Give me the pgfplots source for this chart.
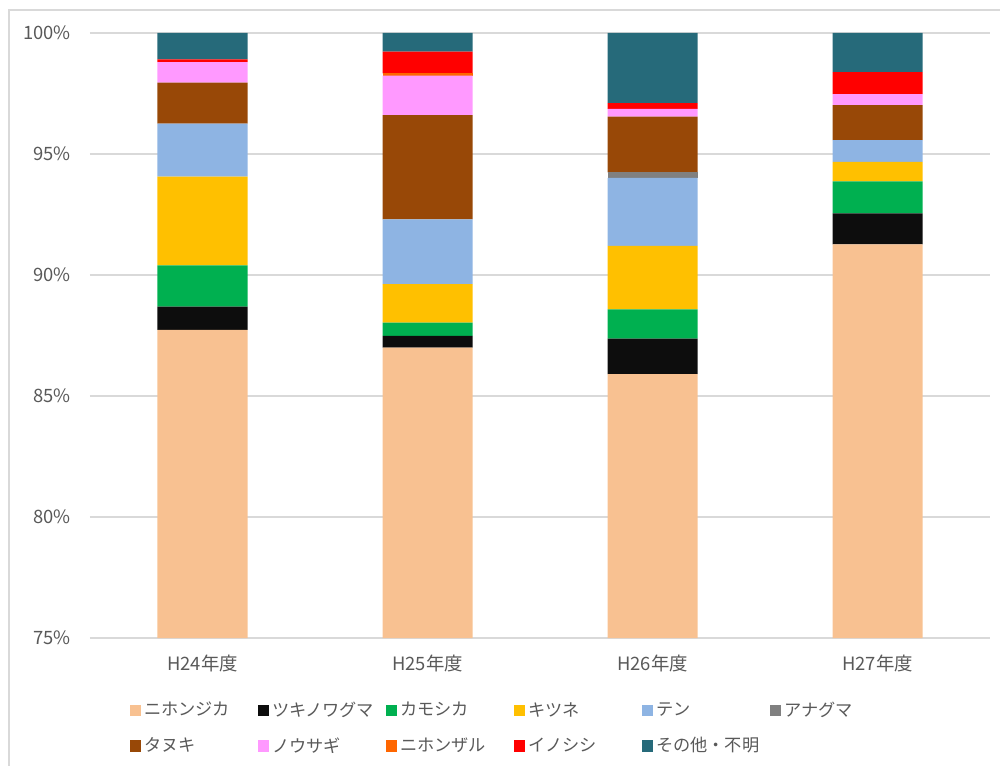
\documentclass[border=0pt]{standalone}
\usepackage{pgfplots}
\pgfplotsset{compat=1.18}
\usepackage{pgfplotstable}
\usepackage{fontspec}
\setmainfont{Noto Sans CJK JP}

\definecolor{txtgray}{HTML}{595959}
\definecolor{gridgray}{HTML}{D9D9D9}
\definecolor{cShika}{HTML}{F8C191}
\definecolor{cKuma}{HTML}{0D0D0D}
\definecolor{cKamo}{HTML}{00B050}
\definecolor{cKitsune}{HTML}{FFC000}
\definecolor{cTen}{HTML}{8EB4E3}
\definecolor{cAna}{HTML}{808080}
\definecolor{cTanuki}{HTML}{984807}
\definecolor{cUsagi}{HTML}{FF99FF}
\definecolor{cSaru}{HTML}{FF6600}
\definecolor{cInoshishi}{HTML}{FF0000}
\definecolor{cOther}{HTML}{266A7A}

\pgfplotstableread{
x shika kuma kamo kitsune ten ana tanuki usagi saru inoshishi other
0 87.73 0.96 1.71 3.66 2.19 0.00 1.70 0.85 0.00 0.11 1.09
1 87.00 0.48 0.55 1.59 2.68 0.00 4.31 1.63 0.09 0.90 0.77
2 85.90 1.47 1.21 2.62 2.81 0.23 2.30 0.32 0.00 0.24 2.90
3 91.27 1.28 1.32 0.80 0.90 0.00 1.45 0.45 0.00 0.91 1.62
}\data

\begin{document}
\begin{tikzpicture}
\useasboundingbox (-45pt,-63.5pt) rectangle (455pt,319pt);
\draw[gridgray, line width=1pt] (-40.5pt,-70pt) -- (-40.5pt,314pt) -- (460pt,314pt);
\begin{axis}[
  at={(0pt,0pt)}, anchor=south west,
  scale only axis, width=450pt, height=302.5pt,
  xmin=-0.5, xmax=3.5, ymin=75, ymax=100,
  ybar stacked, bar width=45pt,
  xtick={0,1,2,3},
  xticklabels={H24年度,H25年度,H26年度,H27年度},
  ytick={75,80,85,90,95,100},
  yticklabel={\pgfmathprintnumber{\tick}\%},
  /pgf/number format/assume math mode=true,
  ymajorgrids, grid style={draw=gridgray, line width=1pt},
  axis line style={draw=none},
  major tick length=0pt,
  tick label style={font=\fontsize{9.2}{11}\selectfont, text=txtgray},
  xticklabel style={yshift=-5pt},
  yticklabel style={xshift=-6pt},
  legend columns=6,
  legend cell align=left,
  legend image code/.code={\fill[#1,draw=none] (0pt,-2.9pt) rectangle (5.8pt,2.9pt);},
  legend style={
    at={(0.0435,-0.10)}, anchor=north west,
    draw=none, fill=none, inner sep=0pt,
    font=\fontsize{8.6}{10}\selectfont, text=txtgray,
    row sep=6pt,
    nodes={inner sep=1.5pt, anchor=west},
    /tikz/every even column/.append style={text width=55.2pt},
  },
]
\addplot[fill=cShika, draw=none] table[x=x, y=shika] {\data};
\addlegendentry{ニホンジカ}
\addplot[fill=cKuma, draw=none] table[x=x, y=kuma] {\data};
\addlegendentry{ツキノワグマ}
\addplot[fill=cKamo, draw=none] table[x=x, y=kamo] {\data};
\addlegendentry{カモシカ}
\addplot[fill=cKitsune, draw=none] table[x=x, y=kitsune] {\data};
\addlegendentry{キツネ}
\addplot[fill=cTen, draw=none] table[x=x, y=ten] {\data};
\addlegendentry{テン}
\addplot[fill=cAna, draw=none] table[x=x, y=ana] {\data};
\addlegendentry{アナグマ}
\addplot[fill=cTanuki, draw=none] table[x=x, y=tanuki] {\data};
\addlegendentry{タヌキ}
\addplot[fill=cUsagi, draw=none] table[x=x, y=usagi] {\data};
\addlegendentry{ノウサギ}
\addplot[fill=cSaru, draw=none] table[x=x, y=saru] {\data};
\addlegendentry{ニホンザル}
\addplot[fill=cInoshishi, draw=none] table[x=x, y=inoshishi] {\data};
\addlegendentry{イノシシ}
\addplot[fill=cOther, draw=none] table[x=x, y=other] {\data};
\addlegendentry{その他・不明}
\end{axis}
\end{tikzpicture}
\end{document}
